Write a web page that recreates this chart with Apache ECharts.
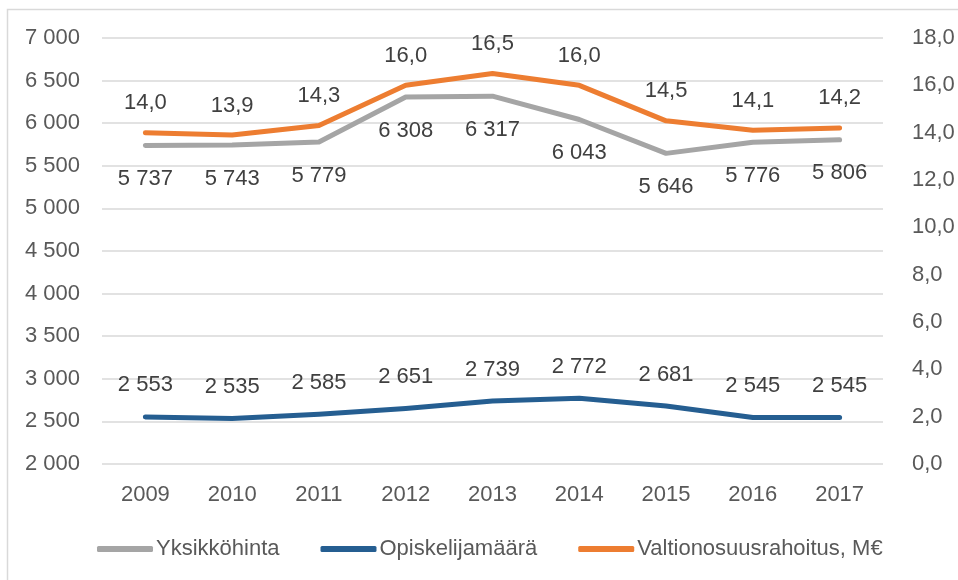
<!DOCTYPE html>
<html>
<head>
<meta charset="utf-8">
<script src="https://cdn.jsdelivr.net/npm/echarts@6/dist/echarts.min.js"></script>
<style>
html,body{margin:0;padding:0;background:#fff;}
#c{width:958px;height:580px;}
</style>
</head>
<body>
<div id="c"></div>
<script>
const years = ['2009','2010','2011','2012','2013','2014','2015','2016','2017'];
const yksikkohinta = [5737, 5743, 5779, 6308, 6317, 6043, 5646, 5776, 5806];
const opiskelijamaara = [2553, 2535, 2585, 2651, 2739, 2772, 2681, 2545, 2545];
const valtionosuus = [14.0, 13.9, 14.3, 16.0, 16.5, 16.0, 14.5, 14.1, 14.2];
const seriesNames = ['Yksikköhinta', 'Opiskelijamäärä', 'Valtionosuusrahoitus, M€'];

const FONT = '"Liberation Sans", Arial, sans-serif';
function thousands(v){ return String(Math.round(v)).replace(/\B(?=(\d{3})+(?!\d))/g, ' '); }
function dec1(v){ return Number(v).toFixed(1).replace('.', ','); }

const chart = echarts.init(document.getElementById('c'), null, {renderer:'canvas'});
const labelBase = {show:true, fontFamily:FONT, fontSize:22, color:'#404040'};
chart.setOption({
  animation:false,
  backgroundColor:'#fff',
  graphic:[{type:'rect', shape:{x:7.5, y:9.5, width:1000, height:1000}, style:{fill:'none', stroke:'#d9d9d9', lineWidth:1.5}, silent:true, z:-10}],
  grid:{left:102, right:75, top:38, bottom:116},
  legend:{
    data:seriesNames, left:92, top:533, itemWidth:56, itemHeight:6, itemGap:41,
    icon:'roundRect',
    textStyle:{fontFamily:FONT, fontSize:22, color:'#595959', padding:[0,0,0,-2]}
  },
  xAxis:{
    type:'category', data:years, boundaryGap:true,
    axisLine:{show:false}, axisTick:{show:false},
    axisLabel:{fontFamily:FONT, fontSize:22, color:'#595959', margin:20}
  },
  yAxis:[
    {type:'value', min:2000, max:7000, interval:500, position:'left',
     axisLine:{show:false}, axisTick:{show:false},
     axisLabel:{fontFamily:FONT, fontSize:22, color:'#595959', margin:22, formatter:thousands},
     splitLine:{lineStyle:{color:'#d9d9d9', width:1.5}}},
    {type:'value', min:0, max:18, interval:2, position:'right',
     axisLine:{show:false}, axisTick:{show:false},
     axisLabel:{fontFamily:FONT, fontSize:22, color:'#595959', margin:29, formatter:dec1},
     splitLine:{show:false}}
  ],
  series:[
    {name:seriesNames[0], type:'line', yAxisIndex:0, data:yksikkohinta, symbol:'circle', symbolSize:1, showSymbol:true,
     lineStyle:{color:'#a5a5a5', width:5, cap:'round', join:'round'}, itemStyle:{color:'#a5a5a5'},
     label:Object.assign({}, labelBase, {position:'bottom', distance:22, formatter:p=>thousands(p.value)})},
    {name:seriesNames[1], type:'line', yAxisIndex:0, data:opiskelijamaara, symbol:'circle', symbolSize:1, showSymbol:true,
     lineStyle:{color:'#255e91', width:5, cap:'round', join:'round'}, itemStyle:{color:'#255e91'},
     label:Object.assign({}, labelBase, {position:'top', distance:20, formatter:p=>thousands(p.value)})},
    {name:seriesNames[2], type:'line', yAxisIndex:1, data:valtionosuus, symbol:'circle', symbolSize:1, showSymbol:true,
     lineStyle:{color:'#ed7d31', width:5, cap:'round', join:'round'}, itemStyle:{color:'#ed7d31'},
     label:Object.assign({}, labelBase, {position:'top', distance:18, formatter:p=>dec1(p.value)})}
  ]
});
</script>
</body>
</html>
